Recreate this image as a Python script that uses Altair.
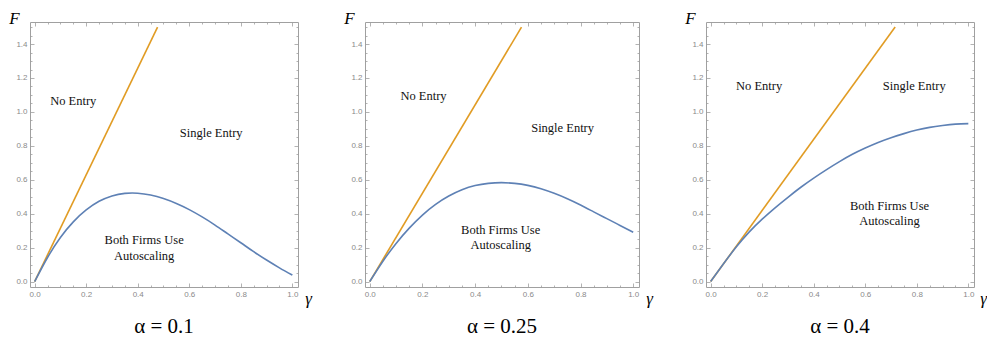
import altair as alt
import pandas as pd

# ---------------- data ----------------
ALPHA_TITLES = ["α = 0.1", "α = 0.25", "α = 0.4"]

# gamma grid on which the blue curves were read
gamma_grid = [0.0, 0.05, 0.1, 0.15, 0.2, 0.25, 0.3, 0.35, 0.4, 0.45, 0.5,
              0.55, 0.6, 0.65, 0.7, 0.75, 0.8, 0.85, 0.9, 0.95, 1.0]

# blue curve (boundary below which both firms use autoscaling)
blue_F_1 = [0.0, 0.142, 0.26, 0.352, 0.422, 0.473, 0.505, 0.52, 0.521, 0.51, 0.489,
            0.46, 0.424, 0.381, 0.333, 0.281, 0.229, 0.176, 0.127, 0.081, 0.038]
blue_F_2 = [0.0, 0.12, 0.225, 0.315, 0.392, 0.455, 0.504, 0.541, 0.566, 0.579, 0.583,
            0.579, 0.567, 0.547, 0.52, 0.488, 0.451, 0.411, 0.371, 0.331, 0.291]
blue_F_3 = [0.0, 0.105, 0.205, 0.293, 0.368, 0.435, 0.497, 0.556, 0.61, 0.66, 0.707,
            0.75, 0.787, 0.82, 0.848, 0.872, 0.893, 0.909, 0.92, 0.928, 0.931]

# orange line (boundary of no entry)
orange_g_1 = [0, 0.477]
orange_F_1 = [0, 1.5]
orange_g_2 = [0, 0.576]
orange_F_2 = [0, 1.5]
orange_g_3 = [0, 0.716]
orange_F_3 = [0, 1.5]

# region labels
region_single = ["No Entry", "Single Entry"]
region_both = ["Both Firms Use", "Autoscaling"]
single_g = [[0.15, 0.685], [0.204, 0.732], [0.188, 0.79]]
single_F = [[1.063, 0.873], [1.094, 0.906], [1.151, 1.151]]
both_g = [[0.425, 0.425], [0.497, 0.497], [0.694, 0.694]]
both_F = [[0.245, 0.153], [0.304, 0.214], [0.447, 0.358]]

# tick values
x_major = [0.0, 0.2, 0.4, 0.6, 0.8, 1.0]
x_minor = [0.05, 0.1, 0.15, 0.25, 0.3, 0.35, 0.45, 0.5, 0.55, 0.65, 0.7, 0.75, 0.85, 0.9, 0.95]
y_major = [0.0, 0.2, 0.4, 0.6, 0.8, 1.0, 1.2, 1.4]
y_minor = [0.05, 0.1, 0.15, 0.25, 0.3, 0.35, 0.45, 0.5, 0.55, 0.65, 0.7, 0.75,
           0.85, 0.9, 0.95, 1.05, 1.1, 1.15, 1.25, 1.3, 1.35, 1.45, 1.5]

blues_F = [blue_F_1, blue_F_2, blue_F_3]
oranges_g = [orange_g_1, orange_g_2, orange_g_3]
oranges_F = [orange_F_1, orange_F_2, orange_F_3]

# ---------------- style ----------------
BLUE = "#5E81B5"
ORANGE = "#E19C24"
GRAY = "#a0a0a0"
LABEL_GRAY = "#8a8a8a"
SERIF = "Liberation Serif"
SANS = "Liberation Sans"
X_DOMAIN = [-0.018, 1.022]
Y_DOMAIN = [-0.032, 1.53]
H = 265
WIDTHS = [268, 274, 268]
GAMMA_DX = [10, 10, 9]
MAJ = 4
MIN = 2


def axis(orient, values, size, labels, **kw):
    return alt.Axis(
        orient=orient, values=values, tickSize=size, offset=-size,
        labels=labels, domain=False, grid=False, tickColor=GRAY, tickWidth=0.8,
        labelColor=LABEL_GRAY, labelFont=SANS, labelFontSize=8,
        labelPadding=3, format=".1f", **kw)


def panel(i):
    w = WIDTHS[i]
    xs = alt.Scale(domain=X_DOMAIN, nice=False, zero=False)
    ys = alt.Scale(domain=Y_DOMAIN, nice=False, zero=False)
    odf = pd.DataFrame({"g": oranges_g[i], "F": oranges_F[i]})
    bdf = pd.DataFrame({"g": gamma_grid, "F": blues_F[i]})
    sdf = pd.DataFrame({"g": single_g[i], "F": single_F[i], "t": region_single})
    tdf = pd.DataFrame({"g": both_g[i], "F": both_F[i], "t": region_both})

    title_kw = dict(titleFont=SERIF, titleFontStyle="italic",
                    titleFontWeight="normal", titleFontSize=17, titleColor="black",
                    titleAngle=0, titleAlign="center", titleBaseline="middle")

    orange = alt.Chart(odf).mark_line(color=ORANGE, strokeWidth=1.6).encode(
        x=alt.X("g:Q", scale=xs,
                axis=axis("bottom", x_major, MAJ, True, title="γ",
                          titleX=w + GAMMA_DX[i], titleY=15, **title_kw)),
        y=alt.Y("F:Q", scale=ys,
                axis=axis("left", y_major, MAJ, True, title="F",
                          titleX=-20, titleY=-4, **title_kw)),
    )
    blue = alt.Chart(bdf).mark_line(color=BLUE, strokeWidth=1.6, interpolate="natural").encode(
        x=alt.X("g:Q", scale=xs, axis=axis("top", x_major, MAJ, False, title=None)),
        y=alt.Y("F:Q", scale=ys, axis=axis("right", y_major, MAJ, False, title=None)),
    )
    txt_font = dict(font=SERIF, fontSize=12.5, color="#111111",
                    align="center", baseline="middle")
    t1 = alt.Chart(sdf).mark_text(**txt_font).encode(
        x=alt.X("g:Q", scale=xs, axis=axis("bottom", x_minor, MIN, False, title=None)),
        y=alt.Y("F:Q", scale=ys, axis=axis("left", y_minor, MIN, False, title=None)),
        text="t:N",
    )
    t2 = alt.Chart(tdf).mark_text(**txt_font).encode(
        x=alt.X("g:Q", scale=xs, axis=axis("top", x_minor, MIN, False, title=None)),
        y=alt.Y("F:Q", scale=ys, axis=axis("right", y_minor, MIN, False, title=None)),
        text="t:N",
    )
    return alt.layer(orange, blue, t1, t2).resolve_scale(
        x="independent", y="independent"
    ).resolve_axis(
        x="independent", y="independent"
    ).properties(
        width=w, height=H,
        title=alt.TitleParams(text=ALPHA_TITLES[i], orient="bottom", anchor="middle",
                              frame="group", font=SERIF, fontSize=21, fontWeight="normal",
                              color="black", offset=10),
    )


chart = alt.hconcat(panel(0), panel(1), panel(2), spacing=31).properties(
    padding={"top": 0, "left": 0, "right": 0, "bottom": 0}
).configure_view(stroke=GRAY, strokeWidth=1)

chart.save("out.html", embed_options={"renderer": "svg", "actions": False})
